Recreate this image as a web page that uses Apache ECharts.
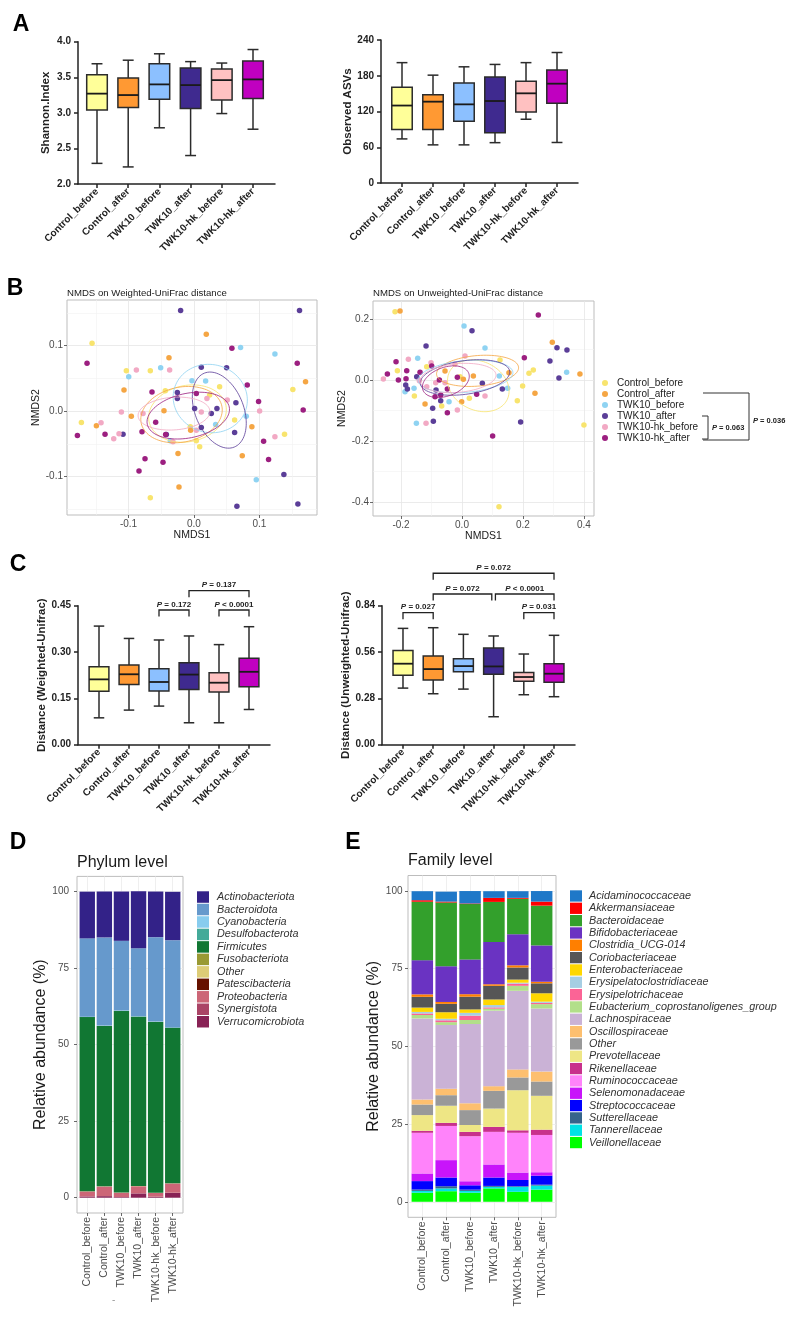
<!DOCTYPE html>
<html><head><meta charset="utf-8">
<script src="https://cdn.jsdelivr.net/npm/echarts@6/dist/echarts.min.js"></script>
<style>html,body{margin:0;padding:0;background:#fff}#c{width:791px;height:1321px}</style>
</head><body><div id="c"></div>
<script>
const FF = "'Liberation Sans', Arial, Helvetica, sans-serif";
const groups = ['Control_before','Control_after','TWK10_before','TWK10_after','TWK10-hk_before','TWK10-hk_after'];
const groupIdx = [1,2,3,4,5,6];

// Box statistics per group: [min, Q1, median, Q3, max]
const shannon = [[2.29,3.04,3.27,3.535,3.69],[2.24,3.075,3.25,3.49,3.74],[2.79,3.19,3.40,3.69,3.83],[2.40,3.06,3.39,3.63,3.72],[2.99,3.18,3.46,3.615,3.70],[2.77,3.20,3.47,3.73,3.89]];
const observed = [[74,90,130,160.6,202],[64,90,136.5,148,181],[64,103.5,132,168,195],[67.7,84.5,137.6,178,199],[107,119,150.5,170.6,202],[68,134,166.7,189.6,219]];
const weighted = [[0.087,0.173,0.2115,0.2525,0.384],[0.112,0.195,0.228,0.258,0.344],[0.125,0.174,0.203,0.246,0.339],[0.071,0.179,0.227,0.2655,0.352],[0.071,0.1705,0.2007,0.233,0.324],[0.114,0.188,0.236,0.2795,0.382]];
const unweighted = [[0.342,0.419,0.4895,0.570,0.703],[0.308,0.391,0.457,0.536,0.707],[0.336,0.441,0.475,0.52,0.667],[0.169,0.425,0.473,0.584,0.657],[0.302,0.383,0.409,0.437,0.548],[0.290,0.377,0.429,0.4895,0.661]];

// Significance brackets (from group, to group, level, text)
const cLeftBrFrom = [3, 5, 4];
const cLeftBrTo = [4, 6, 6];
const cLeftBrY = [0.436, 0.436, 0.4986];
const cLeftBrP = ['= 0.172', '< 0.0001', '= 0.137'];
const cRightBrFrom = [1, 5, 2, 4.06, 2];
const cRightBrTo = [2, 6, 3.94, 6, 6];
const cRightBrY = [0.7977, 0.7977, 0.9107, 0.9107, 1.036];
const cRightBrP = ['= 0.027', '= 0.031', '= 0.072', '< 0.0001', '= 0.072'];

// NMDS Weighted-UniFrac points [NMDS1, NMDS2]
const wuCB = [[-0.1557,0.1038],[-0.1033,0.0619],[-0.0667,0.0619],[-0.172,-0.0174],[-0.0667,-0.1325],[0.0087,-0.0547],[0.0036,-0.0455],[-0.0056,-0.024],[0.0392,0.0373],[0.0621,-0.0138],[0.1511,0.0332],[0.1384,-0.0353],[0.0239,0.0246],[-0.0438,0.0312]];
const wuCA = [[0.0188,0.1176],[-0.0382,0.0818],[-0.1069,0.0322],[-0.0957,-0.0077],[-0.1491,-0.0225],[-0.0458,0.0005],[-0.0051,-0.0292],[-0.0244,-0.065],[-0.0229,-0.1161],[0.0738,-0.0685],[0.0885,-0.024],[0.1705,0.045]];
const wuTB = [[0.0712,0.0972],[0.1237,0.0875],[-0.0509,0.0665],[-0.0997,0.0527],[-0.0031,0.0465],[0.0178,0.046],[0.0799,-0.0077],[0.0331,-0.0205],[-0.0361,-0.0455],[0.0952,-0.1049]];
const wuTA = [[-0.0204,0.154],[0.1613,0.154],[0.0112,0.067],[0.0499,0.0665],[-0.0254,0.0286],[-0.0254,0.0194],[0.001,0.0041],[0.0351,0.0041],[0.0265,-0.0036],[0.0112,-0.0251],[0.0641,0.0128],[0.0621,-0.0327],[-0.0422,-0.0358],[-0.1084,-0.0353],[0.1374,-0.0972],[0.0656,-0.1458],[0.1588,-0.1422]];
const wuHB = [[-0.088,0.0629],[-0.0372,0.0629],[-0.1109,-0.0015],[-0.0779,-0.0036],[-0.142,-0.0179],[-0.1145,-0.0348],[-0.1226,-0.0425],[-0.0321,-0.0471],[0.0198,0.0194],[0.0112,-0.0015],[0.0509,0.0169],[0.1003,0.0],[0.1237,-0.0394],[0.0036,-0.0292]];
const wuHA = [[-0.1634,0.0731],[0.058,0.0962],[-0.0641,0.0292],[0.0036,0.0271],[0.0814,0.0399],[0.0987,0.0148],[0.1578,0.0731],[0.1669,0.0015],[-0.1781,-0.0373],[-0.1359,-0.0353],[-0.0794,-0.0317],[-0.0585,-0.0169],[-0.0433,-0.0358],[-0.0473,-0.0783],[-0.0748,-0.0731],[-0.084,-0.0916],[0.114,-0.0742],[0.1064,-0.046]];
// Ellipses: centre, radii, rotation (deg)
const wuEllCx = [-0.0099, -0.019, 0.0249, 0.0387, -0.0305, -0.0087];
const wuEllCy = [-0.0038, -0.0054, 0.0192, 0.0015, -0.0038, -0.0069];
const wuEllRx = [0.060, 0.063, 0.057, 0.061, 0.055, 0.064];
const wuEllRy = [0.043, 0.042, 0.052, 0.037, 0.025, 0.034];
const wuEllAng = [12, 12, -15, 112, 4, 12];

// NMDS Unweighted-UniFrac points
const uuCB = [[-0.2197,0.224],[-0.212,0.0306],[-0.1158,0.0437],[-0.1563,-0.0525],[0.024,-0.0601],[-0.0066,0.0109],[0.1246,0.0656],[0.1989,-0.0197],[0.1814,-0.0678],[0.2197,0.0219],[0.2339,0.0328],[0.4,-0.1475],[0.1213,-0.4153],[-0.0667,-0.0852]];
const uuCA = [[-0.2033,0.2262],[0.2962,0.1235],[0.3869,0.0197],[0.2393,-0.0437],[-0.1213,-0.0787],[-0.0011,-0.071],[-0.0557,0.0295],[0.0044,0.0022],[0.0372,0.0131],[0.1541,0.024]];
const uuTB = [[0.0066,0.177],[0.0754,0.1049],[-0.1454,0.071],[-0.1574,-0.0273],[-0.1869,-0.0383],[-0.0426,-0.071],[0.1224,0.0131],[0.1497,-0.0273],[0.3432,0.0251],[-0.1497,-0.1421]];
const uuTA = [[0.0328,0.1617],[-0.118,0.1115],[-0.1847,-0.0164],[-0.1792,-0.0295],[-0.1486,0.0109],[-0.0852,-0.0328],[-0.0699,-0.0678],[-0.0962,-0.0929],[0.0667,-0.0109],[0.1322,-0.0295],[0.2885,0.0623],[0.3115,0.106],[0.3443,0.0984],[0.318,0.0066],[0.1923,-0.1377],[-0.094,-0.1355]];
const uuHB = [[-0.2579,0.0033],[-0.176,0.0678],[-0.1016,0.0568],[-0.1399,-0.0022],[-0.1158,-0.0219],[-0.0863,-0.0087],[-0.023,0.0525],[0.0098,0.0787],[-0.0557,-0.0087],[-0.0153,-0.0984],[0.0754,-0.0525],[-0.118,-0.1421]];
const uuHA = [[-0.2448,0.0197],[-0.2164,0.0601],[-0.2087,0.0],[-0.1814,0.0306],[-0.1836,0.0044],[-0.1377,0.0251],[-0.0995,0.0459],[-0.0743,0.0],[-0.0885,-0.0546],[-0.0699,-0.0492],[-0.0481,-0.1071],[-0.0481,-0.0295],[-0.0153,0.0087],[0.0481,-0.047],[0.2044,0.0732],[0.2503,0.2131],[0.1005,-0.1836]];
const uuEllCx = [0.0535, 0.051, 0.0115, 0.0098, -0.013, -0.053];
const uuEllCy = [-0.019, 0.030, 0.0115, 0.0082, 0.0066, -0.0056];
const uuEllRx = [0.105, 0.135, 0.156, 0.148, 0.125, 0.08];
const uuEllRy = [0.08, 0.05, 0.052, 0.055, 0.047, 0.047];
const uuEllAng = [-25, 5, 5, 8, 5, 20];

// Phylum relative abundance (%), per group
const phylumNames = ['Actinobacteriota','Bacteroidota','Cyanobacteria','Desulfobacterota','Firmicutes','Fusobacteriota','Other','Patescibacteria','Proteobacteria','Synergistota','Verrucomicrobiota'];
const pActino = [15.25, 15.0, 16.1, 18.6, 14.9, 15.8];
const pBactero = [25.6, 28.8, 22.8, 22.25, 27.6, 28.5];
const pCyano = [0.04, 0.06, 0.05, 0.03, 0.05, 0.04];
const pDesulfo = [0.1, 0.08, 0.1, 0.12, 0.09, 0.1];
const pFirmi = [56.9, 52.4, 59.3, 55.3, 55.8, 50.8];
const pFuso = [0.02, 0.03, 0.02, 0.02, 0.01, 0.02];
const pOther = [0.05, 0.04, 0.05, 0.06, 0.05, 0.05];
const pPatesci = [0.02, 0.02, 0.01, 0.02, 0.02, 0.02];
const pProteo = [1.6, 3.1, 1.4, 2.3, 1.2, 3.0];
const pSynerg = [0.03, 0.03, 0.02, 0.03, 0.03, 0.03];
const pVerruco = [0.4, 0.5, 0.2, 1.4, 0.3, 1.6];

// Family relative abundance (%), per group
const familyNames = ['Acidaminococcaceae','Akkermansiaceae','Bacteroidaceae','Bifidobacteriaceae','Clostridia_UCG-014','Coriobacteriaceae','Enterobacteriaceae','Erysipelatoclostridiaceae','Erysipelotrichaceae','Eubacterium_coprostanoligenes_group','Lachnospiraceae','Oscillospiraceae','Other','Prevotellaceae','Rikenellaceae','Ruminococcaceae','Selenomonadaceae','Streptococcaceae','Sutterellaceae','Tannerellaceae','Veillonellaceae'];
const fAcidamino = [2.9, 3.2, 4.0, 2.15, 2.15, 3.4];
const fAkkerm = [0.5, 0.3, 0.2, 1.3, 0.3, 1.3];
const fBacteroid = [18.8, 20.5, 17.8, 12.9, 11.4, 12.8];
const fBifido = [11.0, 11.5, 11.2, 13.6, 10.0, 11.7];
const fClostUCG = [0.8, 0.6, 0.8, 0.5, 0.7, 0.5];
const fCorio = [3.45, 2.7, 4.1, 4.4, 3.9, 3.2];
const fEntero = [1.4, 2.1, 1.1, 1.8, 1.0, 2.7];
const fErysClost = [0.5, 0.5, 0.9, 0.75, 0.3, 0.4];
const fErysipelo = [0.5, 0.6, 1.4, 0.4, 0.7, 0.4];
const fEubact = [1.1, 0.9, 1.3, 0.65, 1.6, 1.4];
const fLachno = [26.1, 20.5, 25.5, 24.3, 25.3, 20.3];
const fOscillo = [1.6, 2.1, 2.2, 1.5, 2.6, 3.2];
const fOther = [3.4, 3.4, 4.8, 5.7, 4.1, 4.6];
const fPrevot = [5.05, 5.5, 2.2, 5.9, 12.9, 10.9];
const fRiken = [0.65, 1.0, 1.4, 1.6, 0.8, 1.7];
const fRumino = [13.1, 11.0, 14.5, 10.5, 12.8, 12.0];
const fSeleno = [2.45, 5.6, 1.3, 4.2, 2.4, 1.1];
const fStrepto = [2.7, 2.8, 1.4, 2.7, 2.0, 2.9];
const fSutter = [0.45, 0.7, 0.4, 0.3, 0.2, 0.3];
const fTanner = [0.6, 0.9, 0.6, 0.5, 1.6, 1.3];
const fVeillon = [2.9, 3.4, 2.9, 4.3, 3.2, 3.9];

// ---------- styles ----------
const boxColors = ['#FFFF99','#FF9933','#8CC0FF','#3F2A8F','#FFC1C1','#C000C0'];
const ptColors = ['#F8E46E','#F5A644','#8FD3F2','#5B3E98','#F2A9C4','#9C1F80'];
const phylumColors = ['#332288','#6699CC','#88CCEE','#44AA99','#117733','#999933','#DDCC77','#661100','#CC6677','#AA4466','#882255'];
const familyColors = ['#1F78C8','#FF0000','#33A02C','#6A33C2','#FF7F00','#565656','#FFD700','#A6CEE3','#FB6496','#B2DF8A','#CAB2D6','#FDBF6F','#999999','#EEE685','#C8308C','#FF83FA','#C814FA','#0000FF','#36648B','#00E2E5','#00FF00'];
const phylumData = [pActino,pBactero,pCyano,pDesulfo,pFirmi,pFuso,pOther,pPatesci,pProteo,pSynerg,pVerruco];
const familyData = [fAcidamino,fAkkerm,fBacteroid,fBifido,fClostUCG,fCorio,fEntero,fErysClost,fErysipelo,fEubact,fLachno,fOscillo,fOther,fPrevot,fRiken,fRumino,fSeleno,fStrepto,fSutter,fTanner,fVeillon];

const grids = [
  {left:78, top:41.7, width:197, height:142.3},
  {left:381, top:40, width:197, height:143},
  {left:67, top:300, width:250, height:215, show:true, borderColor:'#BDBDBD', borderWidth:1},
  {left:373, top:301, width:221, height:215, show:true, borderColor:'#BDBDBD', borderWidth:1},
  {left:78, top:605.7, width:192, height:139},
  {left:382, top:605.7, width:193, height:139},
  {left:77, top:876.4, width:106, height:336.6, show:true, borderColor:'#BDBDBD', borderWidth:1},
  {left:408, top:875.5, width:148, height:341.8, show:true, borderColor:'#BDBDBD', borderWidth:1}
];

const catFmt = v => groups[Math.round(v) - 1];
function prismX(g, min, max) {
  return {type:'value', gridIndex:g, min, max,
    axisLine:{show:true, onZero:false, lineStyle:{color:'#222', width:1.5}},
    axisTick:{show:true, length:4, customValues:groupIdx, lineStyle:{color:'#222', width:1.5}},
    axisLabel:{customValues:groupIdx, formatter:catFmt, rotate:45, fontSize:10, fontWeight:'bold', fontFamily:FF, color:'#222', margin:6},
    splitLine:{show:false}};
}
function prismY(g, min, max, ticks, fmt, name, gap) {
  return {type:'value', gridIndex:g, min, max, name, nameLocation:'middle', nameGap:gap,
    nameTextStyle:{fontSize:11.5, fontWeight:'bold', fontFamily:FF, color:'#222'},
    axisLine:{show:true, onZero:false, lineStyle:{color:'#222', width:1.5}},
    axisTick:{show:true, length:4, customValues:ticks, lineStyle:{color:'#222', width:1.5}},
    axisLabel:{customValues:ticks, formatter:fmt, fontSize:10, fontWeight:'bold', fontFamily:FF, color:'#222', margin:7},
    splitLine:{show:false}};
}
function ggAxis(g, min, max, ticks, fmt, name, gap, extra) {
  return Object.assign({type:'value', gridIndex:g, min, max, name, nameLocation:'middle', nameGap:gap,
    nameTextStyle:{fontSize:10.5, fontFamily:FF, color:'#1a1a1a'},
    axisLine:{show:false, onZero:false},
    axisTick:{show:true, length:3, customValues:ticks, lineStyle:{color:'#444', width:0.8}},
    axisLabel:{customValues:ticks, formatter:fmt, fontSize:10, fontFamily:FF, color:'#4d4d4d', margin:4},
    splitLine:{show:true, lineStyle:{color:'#E6E6E6', width:0.8}}}, extra || {});
}
function ggMinor(g, min, max, ticks) {
  return {type:'value', gridIndex:g, min, max,
    axisLine:{show:false, onZero:false}, axisTick:{show:false, customValues:ticks},
    axisLabel:{show:false, customValues:ticks}, splitLine:{show:true, lineStyle:{color:'#F2F2F2', width:0.6}}};
}
const f1 = v => v.toFixed(1), f2 = v => v.toFixed(2), f0 = v => String(Math.round(v));
const barXLabel = {customValues:groupIdx, formatter:catFmt, rotate:90, fontSize:10.5, fontFamily:FF, color:'#4d4d4d', margin:4};
const barSplit = {show:true, lineStyle:{color:'#EBEBEB', width:0.8}};

const xAxes = [
  prismX(0, 0.391, 6.705),
  prismX(1, 0.3226, 6.677),
  ggAxis(2, -0.194, 0.188, [-0.1,0,0.1], f1, 'NMDS1', 14),
  ggAxis(3, -0.292, 0.433, [-0.2,0,0.2,0.4], f1, 'NMDS1', 14),
  prismX(4, 0.3, 6.7),
  prismX(5, 0.305, 6.695),
  ggAxis(6, 0.4, 6.6, groupIdx, catFmt, '', 0, {axisLabel:barXLabel, splitLine:barSplit}),
  ggAxis(7, 0.4, 6.6, groupIdx, catFmt, '', 0, {axisLabel:barXLabel, splitLine:barSplit}),
  ggMinor(2, -0.194, 0.188, [-0.15,-0.05,0.05,0.15]),
  ggMinor(3, -0.292, 0.433, [-0.1,0.1,0.3])
];
const yAxes = [
  prismY(0, 2, 4, [2,2.5,3,3.5,4], f1, 'Shannon.Index', 26),
  prismY(1, 0, 240, [0,60,120,180,240], f0, 'Observed ASVs', 27),
  ggAxis(2, -0.159, 0.170, [-0.1,0,0.1], f1, 'NMDS2', 22),
  ggAxis(3, -0.446, 0.259, [-0.4,-0.2,0,0.2], f1, 'NMDS2', 22),
  prismY(4, 0, 0.45, [0,0.15,0.30,0.45], f2, 'Distance (Weighted-Unifrac)', 30),
  prismY(5, 0, 0.84, [0,0.28,0.56,0.84], f2, 'Distance (Unweighted-Unifrac)', 28),
  ggAxis(6, -5, 105, [0,25,50,75,100], f0, 'Relative abundance (%)', 27, {nameTextStyle:{fontSize:16, fontFamily:FF, color:'#1a1a1a'}, axisLabel:{customValues:[0,25,50,75,100], formatter:f0, fontSize:10, fontFamily:FF, color:'#4d4d4d', margin:8}, splitLine:barSplit}),
  ggAxis(7, -5, 105, [0,25,50,75,100], f0, 'Relative abundance (%)', 25, {nameTextStyle:{fontSize:16, fontFamily:FF, color:'#1a1a1a'}, axisLabel:{customValues:[0,25,50,75,100], formatter:f0, fontSize:10, fontFamily:FF, color:'#4d4d4d', margin:5.5}, splitLine:barSplit}),
  ggMinor(2, -0.159, 0.170, [-0.15,-0.05,0.05,0.15]),
  ggMinor(3, -0.446, 0.259, [-0.3,-0.1,0.1])
];

function boxSeries(stats, ai) {
  return {type:'custom', xAxisIndex:ai, yAxisIndex:ai, clip:false, z:3,
    data: stats.map((s, i) => [groupIdx[i]].concat(s)),
    encode:{x:0, y:[1,2,3,4,5]},
    renderItem:(params, api) => {
      const x = api.value(0);
      const pMin = api.coord([x, api.value(1)]), pQ1 = api.coord([x, api.value(2)]),
            pMed = api.coord([x, api.value(3)]), pQ3 = api.coord([x, api.value(4)]), pMax = api.coord([x, api.value(5)]);
      const u = api.size([1, 0])[0];
      const hw = u * 0.33, cw = u * 0.175, cx = pMed[0];
      const ls = {stroke:'#2b2b2b', lineWidth:1.5};
      return {type:'group', children:[
        {type:'line', shape:{x1:cx, y1:pMax[1], x2:cx, y2:pMin[1]}, style:ls},
        {type:'line', shape:{x1:cx-cw, y1:pMax[1], x2:cx+cw, y2:pMax[1]}, style:ls},
        {type:'line', shape:{x1:cx-cw, y1:pMin[1], x2:cx+cw, y2:pMin[1]}, style:ls},
        {type:'rect', shape:{x:cx-hw, y:pQ3[1], width:2*hw, height:pQ1[1]-pQ3[1]}, style:{fill:boxColors[params.dataIndex], stroke:'#2b2b2b', lineWidth:1.5}},
        {type:'line', shape:{x1:cx-hw, y1:pMed[1], x2:cx+hw, y2:pMed[1]}, style:{stroke:'#1a1a1a', lineWidth:1.8}}
      ]};
    }};
}
function bracketSeries(ai, from, to, yv, ptxt) {
  return {type:'custom', xAxisIndex:ai, yAxisIndex:ai, clip:false, z:4,
    data: from.map((f, i) => [f, to[i], yv[i]]),
    encode:{x:[0,1], y:2},
    renderItem:(params, api) => {
      const i = params.dataIndex;
      const a = api.coord([api.value(0), api.value(2)]), b = api.coord([api.value(1), api.value(2)]);
      return {type:'group', children:[
        {type:'polyline', shape:{points:[[a[0], a[1]+6.5], [a[0], a[1]], [b[0], b[1]], [b[0], b[1]+6.5]]}, style:{stroke:'#222', lineWidth:1.3, fill:null}},
        {type:'text', x:(a[0]+b[0])/2, y:a[1]-5.5, style:{text:'{i|P} ' + ptxt[i],
          rich:{i:{fontStyle:'italic', fontWeight:'bold', fontSize:8, fontFamily:FF, fill:'#222'}},
          fontSize:8, fontWeight:'bold', fontFamily:FF, fill:'#222', align:'center', verticalAlign:'middle'}}
      ]};
    }};
}
function ellipseSeries(ai, cx, cy, rx, ry, ang) {
  return {type:'custom', xAxisIndex:ai, yAxisIndex:ai, clip:false, z:3, silent:true,
    data: cx.map((c, i) => [c, cy[i]]),
    encode:{x:0, y:1},
    renderItem:(params, api) => {
      const i = params.dataIndex, t = ang[i] * Math.PI / 180;
      const pts = [];
      for (let k = 0; k <= 90; k++) {
        const th = k / 90 * 2 * Math.PI, ex = rx[i] * Math.cos(th), ey = ry[i] * Math.sin(th);
        pts.push(api.coord([api.value(0) + ex*Math.cos(t) - ey*Math.sin(t), api.value(1) + ex*Math.sin(t) + ey*Math.cos(t)]));
      }
      return {type:'polyline', shape:{points:pts}, style:{stroke:ptColors[i], lineWidth:0.9, fill:null, opacity:0.9}};
    }};
}
function scatterSeries(ai, pts, gi) {
  return {type:'scatter', name:groups[gi], xAxisIndex:ai, yAxisIndex:ai, data:pts, symbol:'circle', symbolSize:5.5,
    itemStyle:{color:ptColors[gi], opacity:1}, z:2};
}
// stacked composition bars (legend order is top-down; stacking starts from the last name)
function stackedBars(ai, names, dataArr, colors, widthFrac) {
  const out = [];
  const base = groupIdx.map(() => 0);
  for (let k = names.length - 1; k >= 0; k--) {
    const col = colors[k];
    const items = dataArr[k].map((v, i) => { const b = base[i]; base[i] += v; return [groupIdx[i], b, b + v]; });
    out.push({type:'custom', name:names[k], xAxisIndex:ai, yAxisIndex:ai, z:2,
      itemStyle:{color:col}, data:items, encode:{x:0, y:[1,2]},
      renderItem:(params, api) => {
        const x = api.value(0);
        const p0 = api.coord([x, api.value(1)]), p1 = api.coord([x, api.value(2)]);
        const w = api.size([1, 0])[0] * widthFrac;
        return {type:'rect', shape:{x:p0[0] - w/2, y:p1[1], width:w, height:p0[1] - p1[1]}, style:{fill:col}};
      }});
  }
  return out;
}

const series = [
  boxSeries(shannon, 0), boxSeries(observed, 1), boxSeries(weighted, 4), boxSeries(unweighted, 5),
  bracketSeries(4, cLeftBrFrom, cLeftBrTo, cLeftBrY, cLeftBrP),
  bracketSeries(5, cRightBrFrom, cRightBrTo, cRightBrY, cRightBrP)
];
[wuCB, wuCA, wuTB, wuTA, wuHB, wuHA].forEach((p, i) => series.push(scatterSeries(2, p, i)));
[uuCB, uuCA, uuTB, uuTA, uuHB, uuHA].forEach((p, i) => series.push(scatterSeries(3, p, i)));
series.push(ellipseSeries(2, wuEllCx, wuEllCy, wuEllRx, wuEllRy, wuEllAng));
series.push(ellipseSeries(3, uuEllCx, uuEllCy, uuEllRx, uuEllRy, uuEllAng));
stackedBars(6, phylumNames, phylumData, phylumColors, 0.9).forEach(s => series.push(s));
stackedBars(7, familyNames, familyData, familyColors, 0.9).forEach(s => series.push(s));

// legend entries; family legend items carry their own colour (names like "Other" also occur in the phylum panel)
const phylumLegend = phylumNames.map((n, k) => ({name:n, itemStyle:{color:phylumColors[k]}}));
const familyLegend = familyNames.map((n, k) => ({name:n, itemStyle:{color:familyColors[k]}}));

const letter = (t, x, y) => ({type:'text', x, y, style:{text:t, fontSize:23, fontWeight:'bold', fontFamily:FF, fill:'#000', align:'center', verticalAlign:'middle'}});
const plain = (t, x, y, size, color) => ({type:'text', x, y, style:{text:t, fontSize:size, fontFamily:FF, fill:color || '#1a1a1a', verticalAlign:'middle'}});
const pLabel = (t, x, y) => ({type:'text', x, y, style:{text:'{i|P} ' + t, rich:{i:{fontStyle:'italic', fontWeight:'bold', fontSize:7.5, fontFamily:FF, fill:'#222'}}, fontSize:7.5, fontWeight:'bold', fontFamily:FF, fill:'#222', verticalAlign:'middle'}});

const option = {
  animation:false,
  backgroundColor:'#fff',
  grid:grids, xAxis:xAxes, yAxis:yAxes, series,
  legend:[
    {data:groups, orient:'vertical', left:602, top:377.5, padding:0, itemGap:0, itemWidth:8, itemHeight:6, icon:'circle', selectedMode:false,
     textStyle:{fontSize:10, fontFamily:FF, color:'#222', lineHeight:11, padding:[0,0,0,3]}},
    {data:phylumLegend, orient:'vertical', left:197, top:890.8, padding:0, itemGap:0, itemWidth:12, itemHeight:11.5, icon:'rect', selectedMode:false,
     textStyle:{fontSize:10.8, fontStyle:'italic', fontFamily:FF, color:'#333', lineHeight:12.47, padding:[0,0,0,3]}},
    {data:familyLegend, orient:'vertical', left:570, top:889.8, padding:0, itemGap:0, itemWidth:12, itemHeight:11.3, icon:'rect', selectedMode:false,
     textStyle:{fontSize:10.8, fontStyle:'italic', fontFamily:FF, color:'#333', lineHeight:12.33, padding:[0,0,0,2]}}
  ],
  graphic:[
    letter('A', 21, 25), letter('B', 15, 289), letter('C', 18, 565), letter('D', 18, 843), letter('E', 353, 843),
    plain('NMDS on Weighted-UniFrac distance', 67, 293, 9.6),
    plain('NMDS on Unweighted-UniFrac distance', 373, 293, 9.6),
    plain('Phylum level', 77, 863, 16),
    plain('Family level', 408, 861, 16),
    {type:'polyline', shape:{points:[[703,393],[749,393],[749,440],[703,440]]}, style:{stroke:'#333', lineWidth:1, fill:null}},
    {type:'polyline', shape:{points:[[702,416],[708,416],[708,439],[702,439]]}, style:{stroke:'#333', lineWidth:1, fill:null}},
    pLabel('= 0.036', 753, 421),
    pLabel('= 0.063', 712, 428),
    plain('-', 112, 1300, 10, '#999')
  ]
};
const chart = echarts.init(document.getElementById('c'), null, {renderer:'canvas', width:791, height:1321});
chart.setOption(option);
</script>
</body></html>
